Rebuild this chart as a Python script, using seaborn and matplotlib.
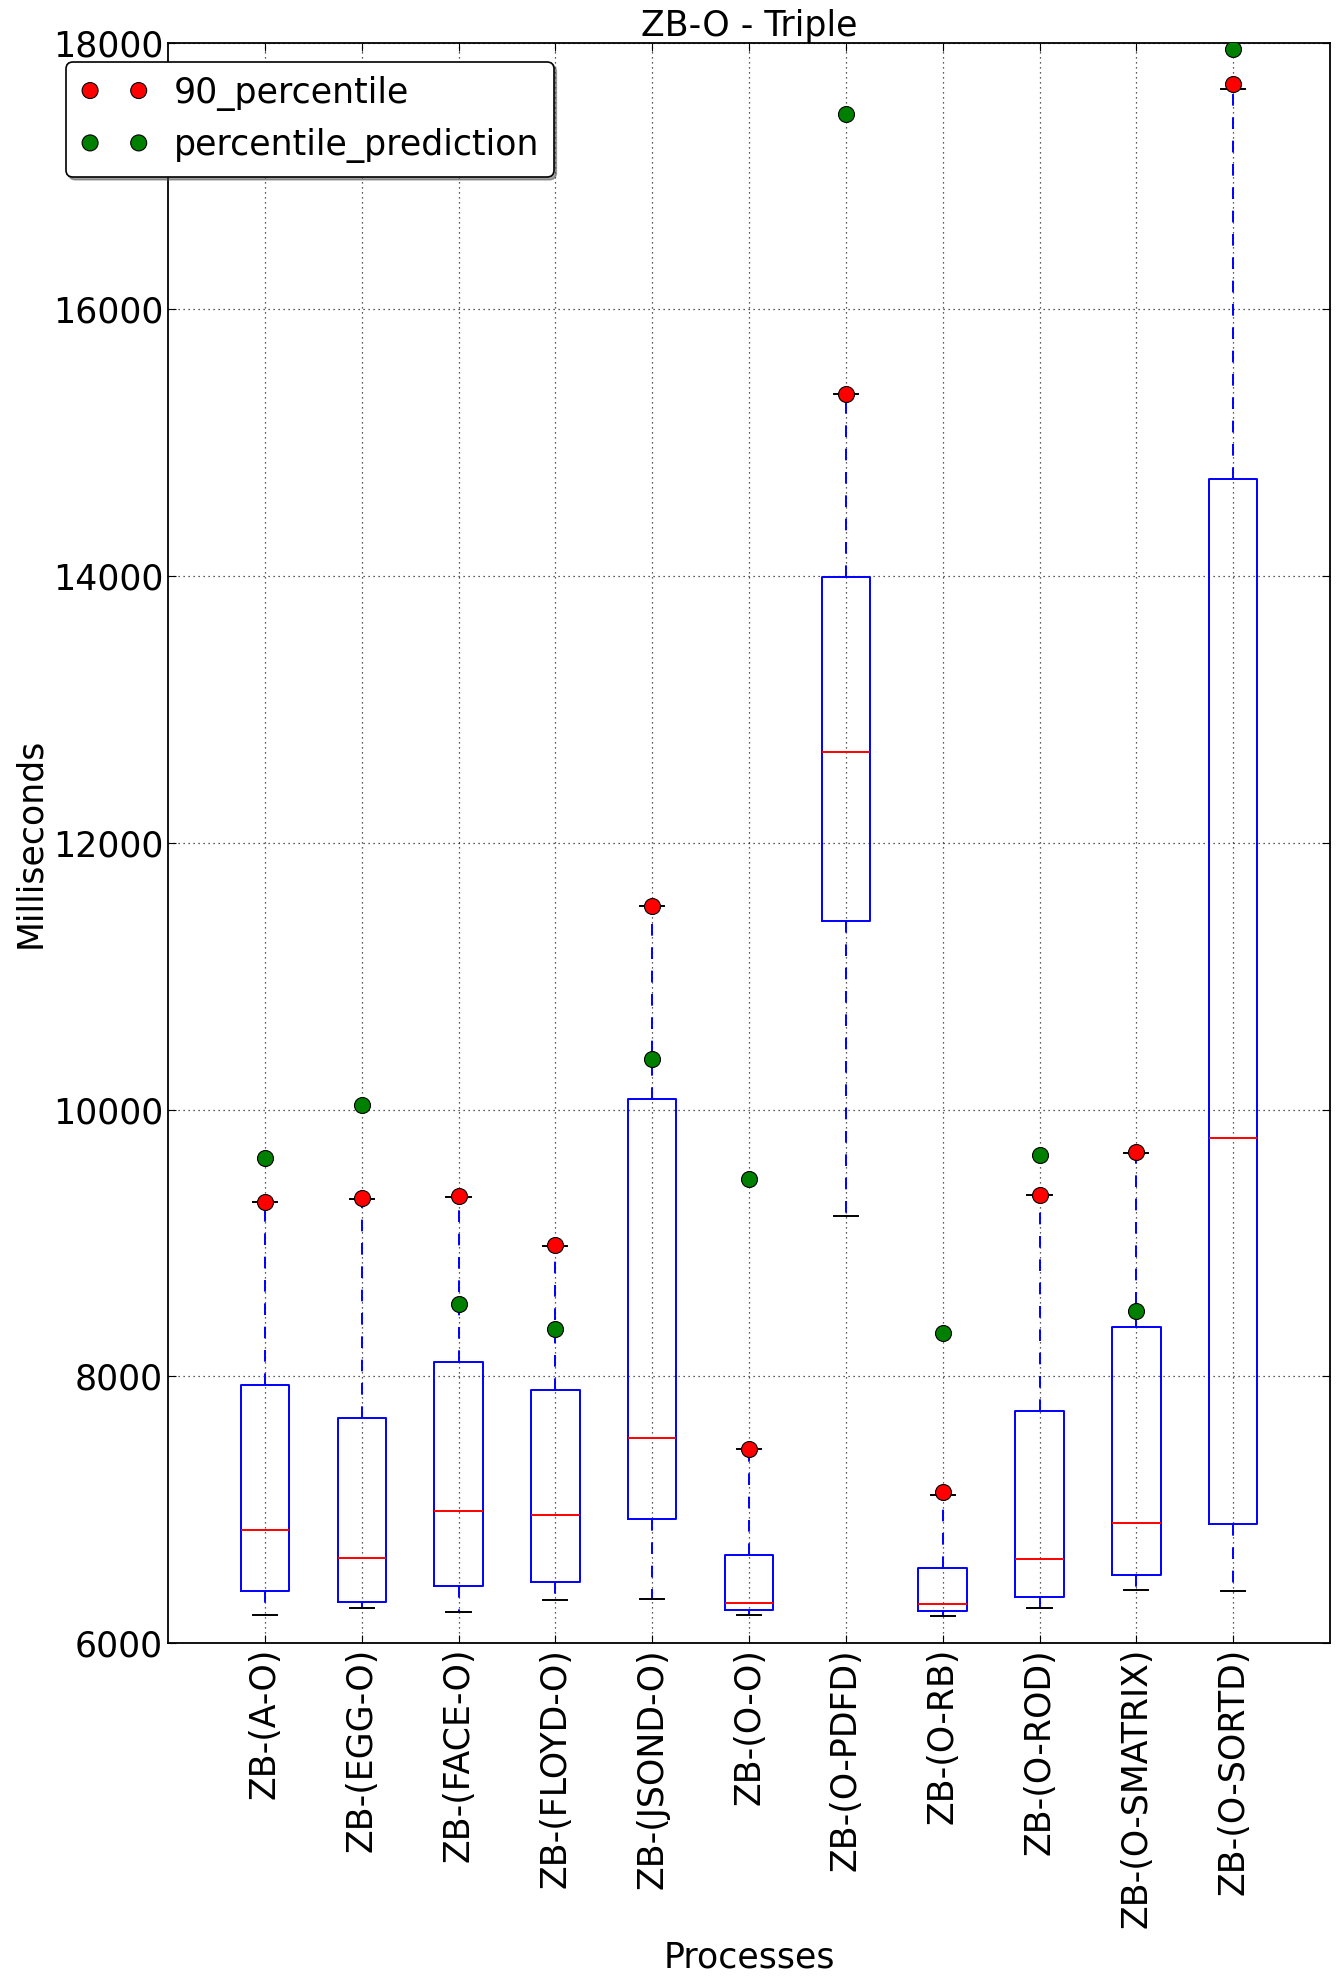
import matplotlib
matplotlib.use("Agg")
import matplotlib.pyplot as plt
import seaborn as sns
import pandas as pd
import numpy as np

processes = ['ZB-(A-O)', 'ZB-(EGG-O)', 'ZB-(FACE-O)', 'ZB-(FLOYD-O)', 'ZB-(JSOND-O)',
             'ZB-(O-O)', 'ZB-(O-PDFD)', 'ZB-(O-RB)', 'ZB-(O-ROD)', 'ZB-(O-SMATRIX)',
             'ZB-(O-SORTD)']
whisker_low = [6208, 6262, 6230, 6321, 6329, 6208, 9203, 6201, 6262, 6396, 6388]
q1 = [6388, 6308, 6426, 6455, 6929, 6246, 11413, 6238, 6346, 6511, 6892]
median = [6846, 6637, 6988, 6958, 7537, 6300, 12680, 6292, 6629, 6900, 9786]
q3 = [7936, 7689, 8105, 7896, 10078, 6658, 13990, 6562, 7738, 8370, 14728]
whisker_high = [9308, 9329, 9345, 8975, 11528, 7454, 15367, 7108, 9356, 9671, 17652]
p90 = [9308, 9337, 9353, 8983, 11528, 7454, 15367, 7135, 9363, 9682, 17692]
prediction = [9637, 10033, 8541, 8352, 10383, 9479, 17465, 8322, 9661, 8488, 17952]

# long-form table of the five-number summaries per process
rows = []
for i, p in enumerate(processes):
    for v in (whisker_low[i], q1[i], median[i], q3[i], whisker_high[i]):
        rows.append({"process": p, "ms": v})
df = pd.DataFrame(rows)
pts = pd.DataFrame({"process": processes, "p90": p90, "pred": prediction})

plt.rcParams.update({
    "font.family": ["DejaVu Sans"],
    "font.size": 25,
    "xtick.direction": "in",
    "ytick.direction": "in",
    "xtick.top": True,
    "ytick.right": True,
    "xtick.major.size": 6,
    "ytick.major.size": 6,
    "axes.linewidth": 1.3,
    "lines.dashed_pattern": [6, 6],
})

fig = plt.figure(figsize=(13.39, 19.82), dpi=100)
fig.patch.set_facecolor("white")
ax = fig.add_axes([0.1255, 0.171, 0.8678, 0.8075])

sns.boxplot(data=df, x="process", y="ms", order=processes, whis=(0, 100), width=0.5,
            fill=False, linecolor="blue", linewidth=1.4, showfliers=False,
            medianprops=dict(color="red", linewidth=1.4),
            capprops=dict(color="black", linewidth=1.4),
            whiskerprops=dict(color="blue", linestyle="--", linewidth=1.4),
            boxprops=dict(color="blue", linewidth=1.4),
            ax=ax)

sns.stripplot(data=pts, x="process", y="p90", order=processes, jitter=False,
              color="red", edgecolor="black", linewidth=0.8, size=11.5,
              label="90_percentile", zorder=5, ax=ax)
sns.stripplot(data=pts, x="process", y="pred", order=processes, jitter=False,
              color="green", edgecolor="black", linewidth=0.8, size=11.5,
              label="percentile_prediction", zorder=5, ax=ax)

ax.set_xlim(-1, 11)
ax.set_ylim(6000, 18000)
ax.set_yticks(np.arange(6000, 18001, 2000))
ax.grid(True, color="black", linestyle=(0, (1, 3)), linewidth=0.9, alpha=0.85)
ax.set_axisbelow(True)
for s in ax.spines.values():
    s.set_visible(True)
    s.set_color("black")
ax.tick_params(axis="x", labelrotation=90, length=6)

ax.set_title("ZB-O - Triple", fontsize=25, pad=3)
ax.set_ylabel("Milliseconds", fontsize=25)
ax.set_xlabel("Processes", fontsize=25)
ax.xaxis.set_label_coords(0.5, -0.186)

handles, labels = ax.get_legend_handles_labels()
seen = {}
for h, l in zip(handles, labels):
    if l not in seen:
        seen[l] = h
leg = ax.legend(list(seen.values()), list(seen.keys()), loc="upper left",
                bbox_to_anchor=(-0.088, 0.988), borderaxespad=0,
                scatterpoints=2, scatteryoffsets=[0.5], fancybox=True,
                shadow=True, fontsize=25, framealpha=1, edgecolor="black",
                handlelength=2.0, handletextpad=0.72)
leg.get_frame().set_linewidth(1.2)

fig.savefig("out.png", dpi=100, facecolor="white")
